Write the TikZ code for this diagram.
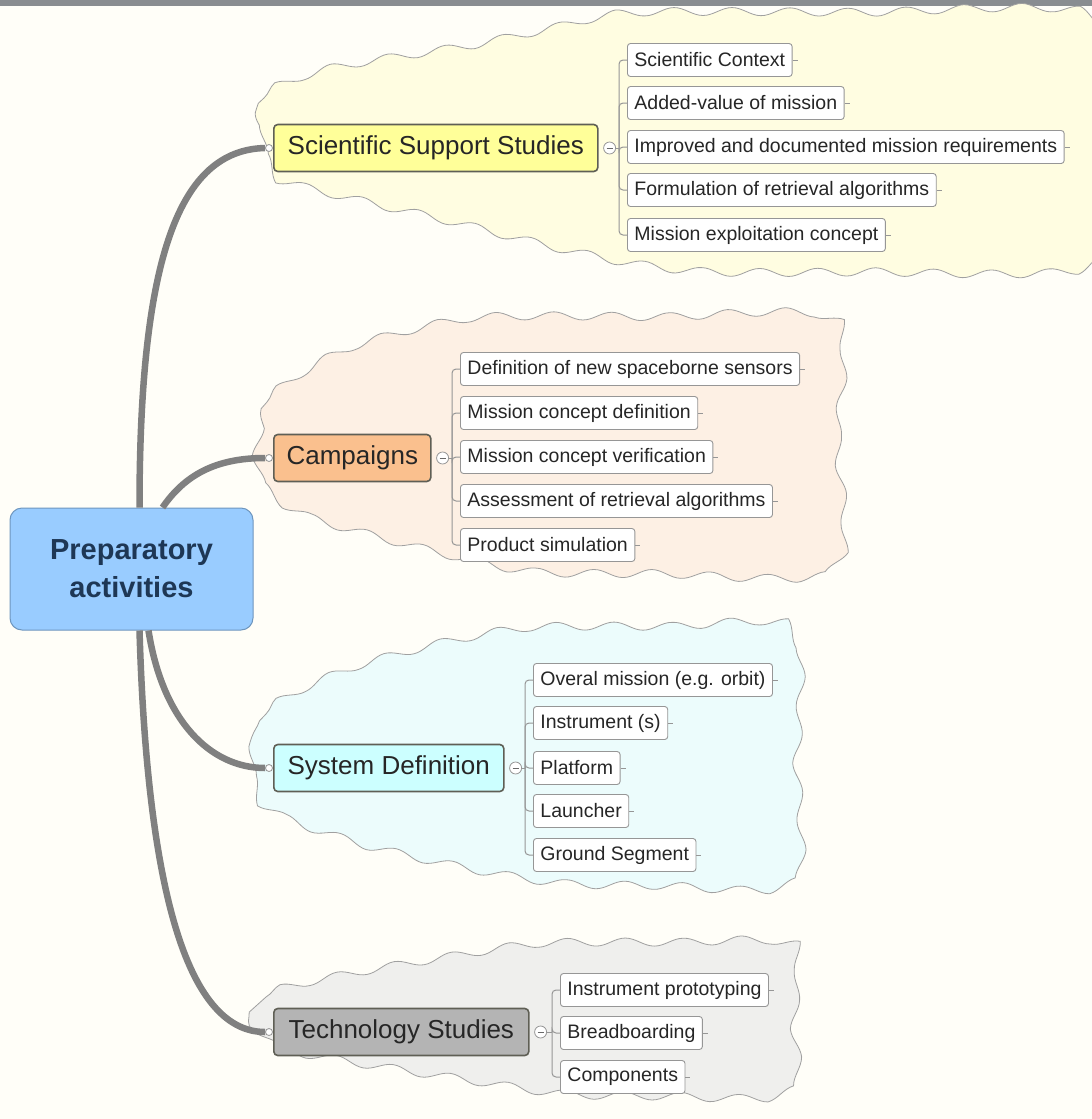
\documentclass[tikz,border=0pt]{standalone}
\usepackage{fontspec}
\setmainfont{Liberation Sans}
\usetikzlibrary{decorations.pathmorphing}

\definecolor{bgCream}{RGB}{255,254,248}
\definecolor{barGray}{RGB}{137,141,145}
\definecolor{prepBlue}{RGB}{153,204,255}
\definecolor{prepLine}{RGB}{110,150,190}
\definecolor{prepText}{RGB}{30,55,85}
\definecolor{topicLine}{RGB}{95,95,85}
\definecolor{sssFill}{RGB}{255,255,153}
\definecolor{campFill}{RGB}{250,192,142}
\definecolor{sysFill}{RGB}{204,255,255}
\definecolor{techFill}{RGB}{180,180,180}
\definecolor{sssCloud}{RGB}{255,253,225}
\definecolor{campCloud}{RGB}{253,240,228}
\definecolor{sysCloud}{RGB}{236,252,252}
\definecolor{techCloud}{RGB}{239,239,237}
\definecolor{cloudLine}{RGB}{160,160,160}
\definecolor{trunkGray}{RGB}{128,128,128}
\definecolor{twig}{RGB}{150,150,150}

\begin{document}
\begin{tikzpicture}[x=1pt, y=-1pt, every node/.style={font=\fontsize{19.5}{22}\selectfont, text=black!85},
	topic/.style={draw=topicLine, line width=1.6pt, rounded corners=4pt, fill=#1, font=\fontsize{26}{30}\selectfont, minimum height=47pt, inner xsep=0pt, anchor=west},
	leaf/.style={draw=twig, line width=0.9pt, fill=white, rounded corners=3pt, minimum height=33pt, inner xsep=7pt, anchor=west},
	knob/.style={circle, draw=twig, fill=white, line width=0.8pt, minimum size=7pt, inner sep=0pt},
	fold/.style={circle, draw=twig, fill=white, line width=0.8pt, minimum size=12pt, inner sep=0pt,
		path picture={\draw[twig!70!black, line width=1pt] ([xshift=-3pt]path picture bounding box.center) -- ([xshift=3pt]path picture bounding box.center);}},
	bubble/.style={fill=#1, draw=cloudLine, line width=0.8pt, decorate, decoration={snake, segment length=58pt, amplitude=4pt}},
	trunk/.style={draw=trunkGray, line width=6.5pt},
	twigline/.style={draw=twig, line width=1pt, rounded corners=4pt}]
	\useasboundingbox (0,0) rectangle (1092,1119);
	\fill[bgCream] (0,0) rectangle (1092,1119);
	\fill[barGray] (0,0) rectangle (1092,6);

	% clouds behind the groups
	\path[bubble=sssCloud] plot[smooth cycle, tension=0.4] coordinates {(250,148) (264,98) (330,75) (460,54) (545,36) (625,21) (850,21) (1084,23) (1086,150) (1084,274) (850,280) (700,280) (620,271) (540,254) (440,229) (340,206) (264,185)};
	\path[bubble=campCloud] plot[smooth cycle, tension=0.4] coordinates {(249,460) (267,402) (340,358) (465,328) (650,327) (824,329) (827,460) (825,584) (650,586) (520,584) (420,563) (300,530) (258,503)};
	\path[bubble=sysCloud] plot[smooth cycle, tension=0.4] coordinates {(250,768) (266,714) (340,678) (430,653) (520,637) (660,636) (788,638) (791,770) (789,891) (660,893) (560,891) (470,877) (360,852) (268,818)};
	\path[bubble=techCloud] plot[smooth cycle, tension=0.4] coordinates {(250,1030) (266,997) (340,980) (440,963) (530,950) (660,949) (781,951) (784,1030) (782,1108) (660,1110) (560,1108) (470,1095) (360,1078) (268,1060)};

	% root
	\node[draw=prepLine, fill=prepBlue, line width=1pt, rounded corners=12pt, minimum width=243pt, minimum height=122pt, align=center,
		font=\bfseries\fontsize{29}{38}\selectfont, text=prepText] (prep) at (131.5,569) {Preparatory\\activities};

	% main topics
	\node[topic=sssFill, minimum width=324pt] (sss) at (273,148) {Scientific Support Studies};
	\node[topic=campFill, minimum width=157pt] (camp) at (273,458) {Campaigns};
	\node[topic=sysFill, minimum width=230pt] (sys) at (273,768) {System Definition};
	\node[topic=techFill, minimum width=255pt] (tech) at (273,1032) {Technology Studies};

	\foreach \g in {sss, camp, sys, tech} {
		\node[knob] (\g k) at ([xshift=-4pt]\g.west) {};
		\node[fold] (\g m) at ([xshift=11pt]\g.east) {};
	}

	\draw[trunk] ([xshift=8pt]prep.north) .. controls +(0,-250) and +(-86,2) .. (sssk.west);
	\draw[trunk] ([xshift=31pt]prep.north) .. controls +(22,-32) and +(-50,0) .. (campk.west);
	\draw[trunk] ([xshift=17pt]prep.south) .. controls +(14,90) and +(-55,0) .. (sysk.west);
	\draw[trunk] ([xshift=8pt]prep.south) .. controls +(8,270) and +(-75,0) .. (techk.west);

	% sub-topics
	\coordinate (sssj) at (619,148);
	\coordinate (campj) at (452,458);
	\coordinate (sysj) at (525,768);
	\coordinate (techj) at (552,1032);
	\draw[twigline] (sssm) -- (sssj);
	\draw[twigline] (campm) -- (campj);
	\draw[twigline] (sysm) -- (sysj);
	\draw[twigline] (techm) -- (techj);

	\foreach \n/\y/\t in {1/60/Scientific Context, 2/103/Added-value of mission, 3/147/Improved and documented mission requirements,
		4/190/Formulation of retrieval algorithms, 5/235/Mission exploitation concept} {
		\node[leaf] (sss\n) at (627,\y) {\t};
		\draw[twigline] (sssj) |- (sss\n.west);
		\draw[twig] (sss\n.east) -- ++(5,0);
	}
	\foreach \n/\y/\t in {1/369/Definition of new spaceborne sensors, 2/413/Mission concept definition, 3/457/Mission concept verification,
		4/501/Assessment of retrieval algorithms, 5/545/Product simulation} {
		\node[leaf] (camp\n) at (460,\y) {\t};
		\draw[twigline] (campj) |- (camp\n.west);
		\draw[twig] (camp\n.east) -- ++(5,0);
	}
	\foreach \n/\y/\t in {1/680/Overal mission (e.g. orbit), 2/723/Instrument (s), 3/768/Platform, 4/811/Launcher, 5/855/Ground Segment} {
		\node[leaf] (sys\n) at (533,\y) {\t};
		\draw[twigline] (sysj) |- (sys\n.west);
		\draw[twig] (sys\n.east) -- ++(5,0);
	}
	\foreach \n/\y/\t in {1/990/Instrument prototyping, 2/1033/Breadboarding, 3/1077/Components} {
		\node[leaf] (tech\n) at (560,\y) {\t};
		\draw[twigline] (techj) |- (tech\n.west);
		\draw[twig] (tech\n.east) -- ++(5,0);
	}
\end{tikzpicture}
\end{document}
